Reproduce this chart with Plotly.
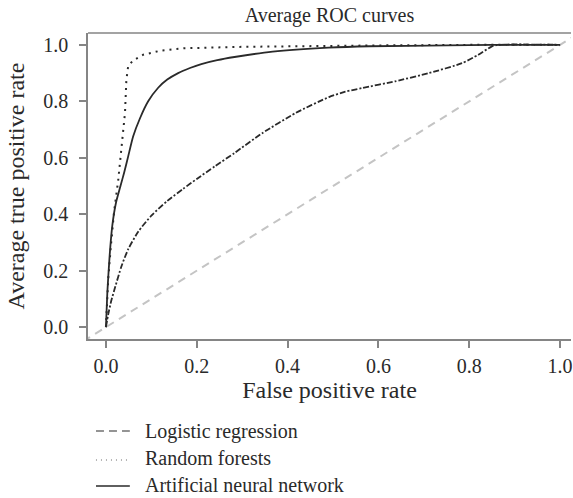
import plotly.graph_objects as go

# ---- data ----
lr_fpr = [0.0, 0.005, 0.012, 0.02, 0.034, 0.049, 0.071, 0.10, 0.135, 0.17, 0.20, 0.24, 0.283, 0.345, 0.418, 0.491, 0.527, 0.564, 0.637, 0.711, 0.784, 0.82, 0.849, 0.864, 1.0]
lr_tpr = [0.0, 0.045, 0.095, 0.14, 0.215, 0.276, 0.338, 0.395, 0.447, 0.49, 0.525, 0.57, 0.617, 0.688, 0.759, 0.815, 0.834, 0.847, 0.871, 0.90, 0.935, 0.965, 0.994, 1.0, 1.0]

rf_fpr = [0.0, 0.005, 0.011, 0.018, 0.027, 0.031, 0.036, 0.042, 0.045, 0.049, 0.06, 0.082, 0.122, 0.173, 0.30, 0.45, 0.60, 0.80, 1.0]
rf_tpr = [0.0, 0.17, 0.29, 0.41, 0.52, 0.58, 0.66, 0.76, 0.876, 0.925, 0.945, 0.965, 0.98, 0.988, 0.993, 0.996, 0.998, 1.0, 1.0]

ann_fpr = [0.0, 0.003, 0.008, 0.014, 0.022, 0.032, 0.04, 0.049, 0.06, 0.075, 0.093, 0.115, 0.135, 0.159, 0.185, 0.21, 0.245, 0.283, 0.367, 0.49, 0.58, 0.75, 0.85, 1.0]
ann_tpr = [0.0, 0.12, 0.25, 0.36, 0.44, 0.50, 0.547, 0.605, 0.676, 0.74, 0.80, 0.848, 0.877, 0.90, 0.918, 0.932, 0.946, 0.957, 0.976, 0.99, 0.995, 0.998, 1.0, 1.0]

diag = [-0.05, 1.05]

legend_names = ["Logistic regression", "Random forests", "Artificial neural network"]
tick_vals = [0.0, 0.2, 0.4, 0.6, 0.8, 1.0]
tick_text = ["0.0", "0.2", "0.4", "0.6", "0.8", "1.0"]

FONT = "Liberation Serif, Times New Roman, serif"
AXC = "#858585"
INK = "#2a2a2a"

W, H = 573, 498
ML, MR, MT, MB = 88, 0, 33, 498 - 339
PW, PH = W - ML - MR, H - MT - MB


def px_x(p):
    """page x pixel -> paper coordinate"""
    return (p - ML) / PW


def px_y(p):
    """page y pixel -> paper coordinate"""
    return (H - MB - p) / PH


fig = go.Figure()

# chance diagonal
fig.add_trace(go.Scatter(x=diag, y=diag, mode="lines", showlegend=False,
                         line=dict(color="#c4c4c4", width=2, dash="8px,6px"), hoverinfo="skip"))
# curves
fig.add_trace(go.Scatter(x=lr_fpr, y=lr_tpr, mode="lines", showlegend=False, name=legend_names[0],
                         line=dict(color=INK, width=1.8, dash="6px,2px,2px,2px", shape="spline", smoothing=0.6)))
fig.add_trace(go.Scatter(x=rf_fpr, y=rf_tpr, mode="lines", showlegend=False, name=legend_names[1],
                         line=dict(color=INK, width=2, dash="2px,5px")))
fig.add_trace(go.Scatter(x=ann_fpr, y=ann_tpr, mode="lines", showlegend=False, name=legend_names[2],
                         line=dict(color=INK, width=1.8, shape="spline", smoothing=0.6)))

# custom legend (below the plot)
leg_line_rows = [431, 460, 486]
leg_text_rows = [431, 458, 485]
leg_dash = [dict(color=INK, width=1.1, dash="8px,5px"),
            dict(color="#666666", width=1, dash="1px,4px"),
            dict(color=INK, width=1.3)]
shapes = [dict(type="line", xref="paper", yref="paper", x0=0, x1=1, y0=1, y1=1,
               line=dict(color=AXC, width=1.5))]
annotations = []
for nm, lrow, trow, st in zip(legend_names, leg_line_rows, leg_text_rows, leg_dash):
    shapes.append(dict(type="line", xref="paper", yref="paper",
                       x0=px_x(96), x1=px_x(130), y0=px_y(lrow), y1=px_y(lrow), line=st))
    annotations.append(dict(text=nm, xref="paper", yref="paper", x=px_x(143), y=px_y(trow),
                            xanchor="left", yanchor="middle", showarrow=False,
                            font=dict(family=FONT, size=20, color=INK)))

fig.update_layout(
    width=W, height=H,
    margin=dict(l=ML, r=MR, t=MT, b=MB),
    paper_bgcolor="white", plot_bgcolor="white",
    font=dict(family=FONT, size=20, color=INK),
    title=dict(text="Average ROC curves", x=0.5, xref="paper", xanchor="center",
               y=1 - 15 / H, yref="container", yanchor="middle",
               font=dict(family=FONT, size=20, color=INK)),
    xaxis=dict(range=[-0.0395, 1.024], showgrid=False, zeroline=False,
               showline=True, linecolor=AXC, linewidth=1.5, mirror=False,
               ticks="outside", ticklen=7, tickwidth=1.5, tickcolor=AXC,
               tickvals=tick_vals, ticktext=tick_text, ticklabeloverflow="allow",
               ticklabelstandoff=1,
               title=dict(text="False positive rate", standoff=4)),
    yaxis=dict(range=[-0.042, 1.042], showgrid=False, zeroline=False,
               showline=True, linecolor=AXC, linewidth=1.5,
               ticks="outside", ticklen=7, tickwidth=1.5, tickcolor=AXC,
               tickvals=tick_vals, ticktext=tick_text, ticklabelstandoff=7,
               title=dict(text="Average true positive rate", standoff=12)),
    showlegend=False,
    shapes=shapes,
    annotations=annotations,
)

# remove the browser's default 8px body margin so the figure fills the window exactly
fig.write_html("out.html", config={"displayModeBar": False},
               post_script="document.body.style.margin='0';")
